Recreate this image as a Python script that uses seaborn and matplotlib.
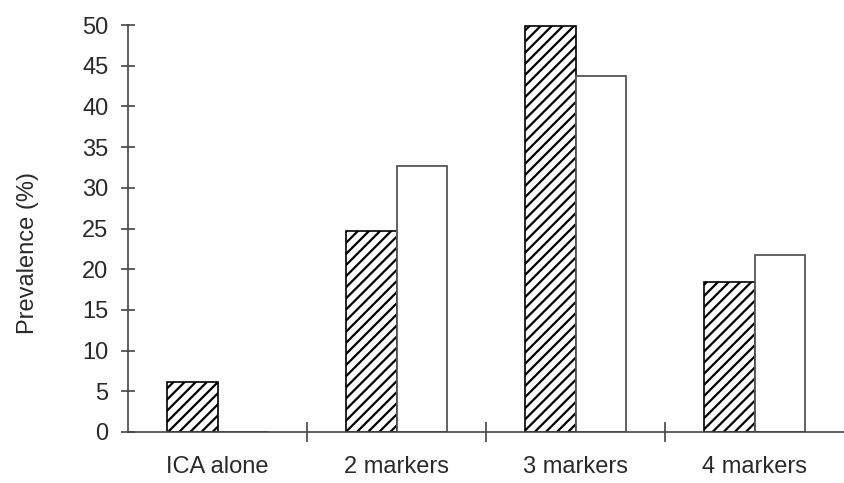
import numpy as np
import pandas as pd
import matplotlib
matplotlib.use("Agg")
import matplotlib.pyplot as plt
import seaborn as sns

categories = ["ICA alone", "2 markers", "3 markers", "4 markers"]
hatched_vals = [6.1, 24.7, 49.9, 18.4]
open_vals = [0.0, 32.7, 43.7, 21.7]
yticks = list(range(0, 51, 5))

df = pd.DataFrame({
    "category": categories * 2,
    "group": ["hatched"] * len(categories) + ["open"] * len(categories),
    "value": hatched_vals + open_vals,
})

sns.set_style("white")
plt.rcParams["font.family"] = ["Liberation Sans", "DejaVu Sans"]
plt.rcParams["hatch.linewidth"] = 1.6
plt.rcParams["hatch.color"] = "black"

fig = plt.figure(figsize=(8.44, 4.83), dpi=100)
ax = fig.add_axes([0.1517, 0.1056, 0.8483, 0.8424])

sns.barplot(data=df, x="category", y="value", hue="group", order=categories,
            hue_order=["hatched", "open"], palette=["white", "white"],
            width=0.56, legend=False, ax=ax, errorbar=None,
            edgecolor="black", linewidth=1.2)

# first series hatched, second open
for bar in ax.containers[0]:
    bar.set_hatch("///")
    bar.set_edgecolor("black")
for bar in ax.containers[1]:
    bar.set_edgecolor("#555555")
    bar.set_linewidth(1.3)

ax.set_xlim(-0.5, 3.5)
ax.set_ylim(0, 50)
ax.set_yticks(yticks)
ax.set_yticklabels([str(t) for t in yticks])

# ticks between groups, labels under groups
ax.set_xticks([0.5, 1.5, 2.5])
ax.set_xticklabels([])
ax.set_xticks(range(len(categories)), minor=True)
ax.set_xticklabels(categories, minor=True)
ax.tick_params(axis="x", which="major", direction="inout", length=14,
               width=1.2, color="#444444", bottom=True)
ax.tick_params(axis="x", which="minor", length=0, pad=17, labelsize=17,
               labelcolor="#2a2a2a", bottom=True)
ax.tick_params(axis="y", direction="inout", length=10, width=1.2,
               color="#444444", pad=9, labelsize=17, labelcolor="#2a2a2a",
               left=True)

for side in ["top", "right"]:
    ax.spines[side].set_visible(False)
for side in ["left", "bottom"]:
    ax.spines[side].set_color("#444444")
    ax.spines[side].set_linewidth(1.2)

ax.set_xlabel("")
ax.set_ylabel("Prevalence (%)", fontsize=17, color="#2a2a2a")
ax.yaxis.set_label_coords(-0.125, 0.44)

fig.savefig("out.png", dpi=100)
